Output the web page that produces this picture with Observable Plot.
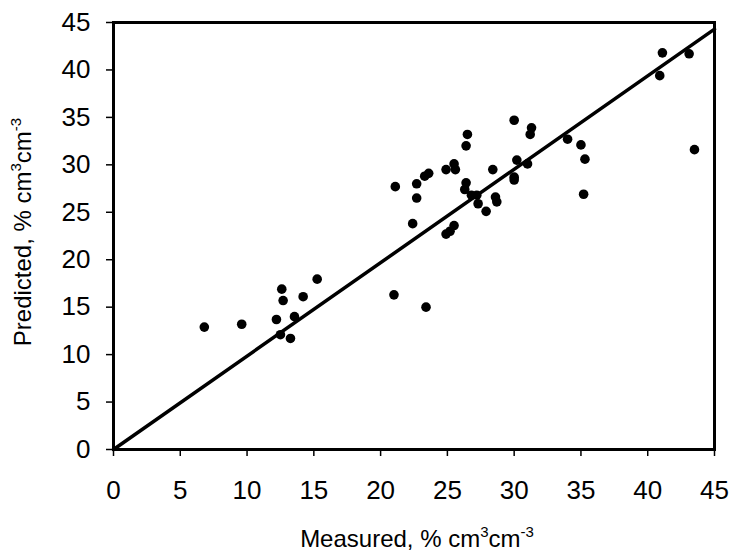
<!DOCTYPE html>
<html>
<head>
<meta charset="utf-8">
<script src="https://cdn.jsdelivr.net/npm/d3@7"></script>
<script src="https://cdn.jsdelivr.net/npm/@observablehq/plot@0.6"></script>
<style>
  html, body { margin: 0; padding: 0; background: white; }
</style>
</head>
<body>
<div id="chart"></div>
<script>
const measured = [6.8, 9.6, 12.2, 12.5, 12.6, 12.7, 13.25, 13.55, 14.2, 15.25,
  21.0, 21.1, 22.4, 22.7, 22.7, 23.3, 23.6, 23.4, 24.9, 25.2,
  25.5, 24.9, 25.5, 25.6, 26.3, 26.4, 26.4, 26.5, 26.8, 27.2,
  27.3, 27.9, 28.4, 28.6, 28.7, 30.0, 30.0, 30.0, 30.2, 31.0,
  31.2, 31.3, 34.0, 35.0, 35.3, 35.2, 40.9, 41.1, 43.1, 43.5];
const predicted = [12.9, 13.2, 13.7, 12.1, 16.9, 15.7, 11.7, 14.0, 16.1, 17.95,
  16.3, 27.7, 23.8, 26.5, 28.0, 28.8, 29.1, 15.0, 22.7, 23.0,
  23.6, 29.5, 30.1, 29.5, 27.4, 28.1, 32.0, 33.2, 26.8, 26.8,
  25.9, 25.1, 29.5, 26.6, 26.1, 34.7, 28.7, 28.4, 30.5, 30.1,
  33.2, 33.9, 32.7, 32.1, 30.6, 26.9, 39.4, 41.8, 41.7, 31.6];
const lineX = [0, 45];
const lineY = [0, 44.3];
const ticks = [0, 5, 10, 15, 20, 25, 30, 35, 40, 45];
const xLabel = ["Measured, % cm", "3", "cm", "-3"];
const yLabel = ["Predicted, % cm", "3", "cm", "-3"];

const points = measured.map((m, i) => ({m, p: predicted[i]}));
const fit = lineX.map((x, i) => ({x, y: lineY[i]}));

const plot = Plot.plot({
  width: 733,
  height: 554,
  marginLeft: 113,
  marginRight: 19,
  marginTop: 22,
  marginBottom: 105,
  style: {fontFamily: "'Liberation Sans', Arial, sans-serif", color: "black", background: "white"},
  x: {domain: [0, 45]},
  y: {domain: [0, 45]},
  marks: [
    Plot.axisX({ticks, tickSize: 7, tickPadding: 24, fontSize: 26, label: null, strokeWidth: 1.5}),
    Plot.axisY({ticks, tickSize: 7, tickPadding: 16, fontSize: 26, label: null, strokeWidth: 1.5}),
    Plot.frame({stroke: "black", strokeWidth: 3}),
    Plot.line(fit, {x: "x", y: "y", stroke: "black", strokeWidth: 3.5}),
    Plot.dot(points, {x: "m", y: "p", r: 4.8, fill: "black", stroke: "none"})
  ]
});

const svg = d3.select(plot);
function addLabel(parts, x, y, rotate) {
  const t = svg.append("text")
    .attr("transform", `translate(${x},${y}) rotate(${rotate})`)
    .attr("text-anchor", "middle")
    .attr("font-family", "'Liberation Sans', Arial, sans-serif")
    .attr("font-size", 24)
    .attr("fill", "black");
  t.append("tspan").text(parts[0]);
  t.append("tspan").attr("dy", -10).attr("font-size", 15).text(parts[1]);
  t.append("tspan").attr("dy", 10).text(parts[2]);
  t.append("tspan").attr("dy", -10).attr("font-size", 15).text(parts[3]);
}
addLabel(xLabel, 417, 547, 0);
addLabel(yLabel, 31, 232, -90);

document.getElementById("chart").appendChild(plot);
</script>
</body>
</html>
